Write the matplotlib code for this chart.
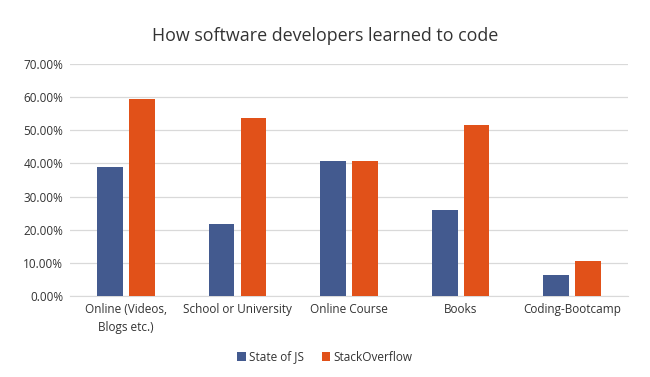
import numpy as np
import matplotlib.pyplot as plt
from matplotlib.ticker import PercentFormatter

plt.rcParams['font.family'] = ['Open Sans', 'DejaVu Sans']

categories = ['Online (Videos,\nBlogs etc.)', 'School or University', 'Online Course',
              'Books', 'Coding-Bootcamp']
state_of_js = [38.9, 21.6, 40.7, 25.8, 6.4]
stackoverflow = [59.5, 53.7, 40.7, 51.5, 10.4]

blue = '#435a8f'
orange = '#e15119'

fig = plt.figure(figsize=(6.5, 3.77), dpi=100)
ax = fig.add_axes([0.108, 0.215, 0.858, 0.615])

x = np.arange(len(categories))
w = 0.23
ax.bar(x - 0.142, state_of_js, w, color=blue, label='State of JS', zorder=3)
ax.bar(x + 0.142, stackoverflow, w, color=orange, label='StackOverflow', zorder=3)

ax.set_xlim(-0.5, len(categories) - 0.5)
ax.set_ylim(0, 70)
ax.set_yticks(np.arange(0, 71, 10))
ax.yaxis.set_major_formatter(PercentFormatter(decimals=2))
ax.grid(axis='y', color='#d9d9d9', linewidth=0.9, zorder=0)
for s in ['top', 'right', 'left']:
    ax.spines[s].set_visible(False)
ax.spines['bottom'].set_color('#d9d9d9')
ax.tick_params(axis='both', length=0, labelsize=8.5, colors='#333333', pad=5)
ax.set_xticks(x)
ax.set_xticklabels(categories, linespacing=1.5)

fig.text(0.5, 0.905, 'How software developers learned to code', ha='center',
         va='center', fontsize=12.9, color='#333333')
fig.legend(loc='center', bbox_to_anchor=(0.5, 0.053), ncol=2, frameon=False,
           fontsize=8.5, handlelength=0.7, handleheight=0.7, handletextpad=0.3,
           columnspacing=1.5, labelcolor='#333333')

fig.savefig('out.png', dpi=100)
